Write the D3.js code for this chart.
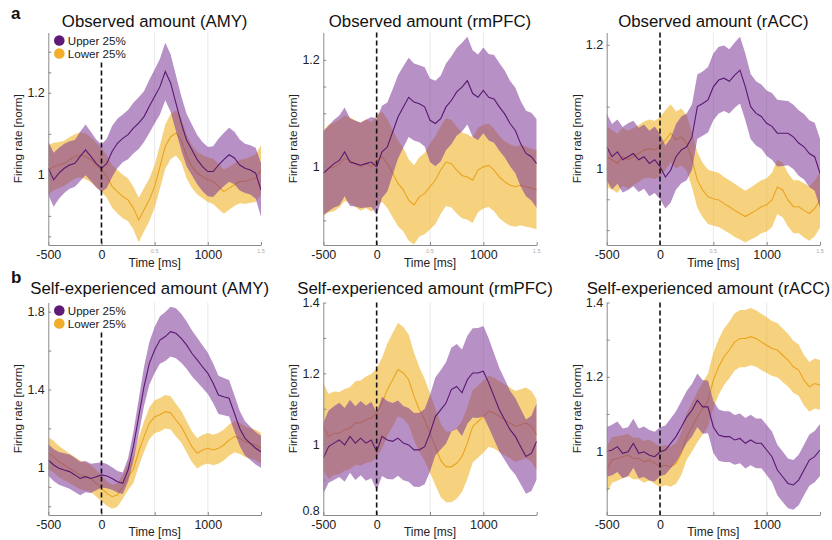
<!DOCTYPE html>
<html><head><meta charset="utf-8">
<script src="https://cdn.jsdelivr.net/npm/d3@7"></script>
<style>
html,body{margin:0;padding:0;background:#fff;}
svg{display:block;font-family:"Liberation Sans",Arial,Helvetica,sans-serif;}
</style></head>
<body><svg id="chart" width="832" height="540"></svg>
<script>
// ---------------- DATA ----------------
const timeMs = [-500,-450,-400,-350,-300,-250,-200,-150,-100,-50,0,50,100,150,200,250,300,350,400,450,500,550,600,650,700,750,800,850,900,950,1000,1050,1100,1150,1200,1250,1300,1350,1400,1450,1500];
const seriesNames = ["Upper 25%", "Lower 25%"];
const panelTitles = ["Observed amount (AMY)","Observed amount (rmPFC)","Observed amount (rACC)",
  "Self-experienced amount (AMY)","Self-experienced amount (rmPFC)","Self-experienced amount (rACC)"];
const panelLetters = ["a","b"];
const xTickValues = [-500,0,500,1000,1500];
const xTickLabels = ["-500","0","","1000",""];

// a: Observed amount (AMY)
const obsAmyUpper = [1.016,0.988,1.004,1.016,1.024,1.028,1.045,1.061,1.045,1.028,1.016,1.028,1.057,1.077,1.089,1.098,1.114,1.126,1.142,1.167,1.191,1.215,1.252,1.224,1.175,1.126,1.085,1.061,1.037,1.020,1.008,1.008,1.024,1.037,1.049,1.041,1.024,1.016,1.012,1.004,0.963];
const obsAmyUpperSem = [0.065,0.066,0.062,0.060,0.058,0.057,0.060,0.062,0.060,0.058,0.058,0.060,0.062,0.060,0.058,0.060,0.062,0.063,0.062,0.065,0.066,0.068,0.070,0.070,0.068,0.066,0.064,0.062,0.060,0.060,0.060,0.062,0.064,0.065,0.066,0.064,0.062,0.060,0.060,0.062,0.065];
const obsAmyLower = [1.012,1.020,1.024,1.028,1.037,1.045,1.049,1.045,1.037,1.024,1.012,0.996,0.972,0.959,0.947,0.939,0.919,0.890,0.915,0.939,0.972,1.020,1.069,1.093,1.102,1.085,1.045,1.020,1.004,0.996,0.988,0.984,0.972,0.959,0.967,0.976,0.984,0.984,0.988,0.992,1.012];
const obsAmyLowerSem = [0.060,0.058,0.056,0.055,0.055,0.054,0.055,0.056,0.055,0.054,0.053,0.052,0.052,0.053,0.053,0.052,0.052,0.054,0.053,0.052,0.052,0.053,0.054,0.055,0.055,0.054,0.053,0.052,0.052,0.053,0.054,0.055,0.055,0.054,0.052,0.052,0.053,0.055,0.056,0.058,0.060];

// a: Observed amount (rmPFC)
const obsPfcUpper = [0.988,0.997,1.006,1.012,1.028,1.009,1.006,1.003,1.006,1.009,1.000,1.028,1.037,1.065,1.093,1.112,1.130,1.121,1.118,1.112,1.087,1.081,1.090,1.112,1.124,1.140,1.149,1.161,1.137,1.130,1.143,1.130,1.127,1.112,1.099,1.081,1.068,1.043,1.025,1.019,1.006];
const obsPfcUpperSem = [0.078,0.080,0.082,0.084,0.083,0.082,0.080,0.080,0.082,0.084,0.090,0.086,0.083,0.080,0.078,0.076,0.074,0.072,0.072,0.074,0.078,0.080,0.080,0.081,0.082,0.082,0.083,0.082,0.081,0.080,0.080,0.081,0.082,0.082,0.081,0.080,0.080,0.080,0.080,0.082,0.083];
const obsPfcLower = [0.988,0.997,1.000,1.006,1.016,1.012,1.006,1.000,1.006,1.000,1.012,1.019,1.006,0.988,0.969,0.957,0.938,0.929,0.944,0.950,0.963,0.975,0.994,1.009,1.006,0.994,0.984,0.981,0.975,0.994,1.000,1.003,0.994,0.981,0.972,0.966,0.963,0.966,0.963,0.960,0.957];
const obsPfcLowerSem = [0.080,0.082,0.083,0.082,0.080,0.080,0.081,0.082,0.083,0.084,0.085,0.084,0.083,0.082,0.080,0.078,0.076,0.074,0.074,0.076,0.080,0.082,0.082,0.082,0.082,0.081,0.080,0.080,0.080,0.079,0.078,0.078,0.077,0.077,0.076,0.076,0.075,0.075,0.075,0.074,0.074];

// a: Observed amount (rACC)
const obsAccUpper = [1.035,1.019,1.027,1.014,1.019,1.024,1.014,1.019,1.008,1.014,1.003,0.986,0.997,1.019,1.030,1.035,1.051,1.100,1.105,1.111,1.132,1.143,1.146,1.141,1.151,1.159,1.132,1.100,1.089,1.084,1.073,1.068,1.057,1.057,1.057,1.051,1.041,1.035,1.024,1.019,0.992];
const obsAccUpperSem = [0.054,0.053,0.052,0.053,0.054,0.053,0.052,0.052,0.053,0.054,0.053,0.051,0.052,0.053,0.054,0.054,0.053,0.052,0.052,0.053,0.054,0.054,0.053,0.052,0.053,0.054,0.054,0.053,0.052,0.052,0.053,0.054,0.054,0.053,0.052,0.052,0.053,0.053,0.054,0.055,0.056];
const obsAccLower = [1.019,1.014,1.008,1.019,1.014,1.019,1.024,1.030,1.032,1.030,1.035,1.046,1.057,1.046,1.051,1.041,1.014,0.981,0.965,0.954,0.951,0.949,0.943,0.938,0.932,0.927,0.922,0.927,0.932,0.938,0.941,0.949,0.970,0.965,0.949,0.938,0.938,0.932,0.927,0.935,0.949];
const obsAccLowerSem = [0.049,0.048,0.048,0.047,0.047,0.046,0.046,0.046,0.047,0.047,0.048,0.048,0.047,0.046,0.046,0.045,0.045,0.045,0.044,0.044,0.044,0.044,0.043,0.043,0.043,0.042,0.042,0.042,0.043,0.043,0.043,0.044,0.044,0.044,0.043,0.043,0.043,0.044,0.044,0.045,0.045];

// b: Self-experienced amount (AMY)
const selfAmyUpper = [1.038,1.012,0.995,0.986,0.978,0.961,0.943,0.952,0.943,0.952,0.961,0.955,0.943,0.926,0.918,0.986,1.106,1.260,1.415,1.534,1.603,1.654,1.672,1.697,1.689,1.663,1.629,1.586,1.552,1.517,1.483,1.432,1.372,1.363,1.355,1.278,1.200,1.149,1.123,1.098,1.080];
const selfAmyUpperSem = [0.080,0.082,0.084,0.086,0.088,0.088,0.086,0.080,0.075,0.070,0.065,0.062,0.058,0.055,0.055,0.060,0.075,0.090,0.100,0.110,0.118,0.122,0.126,0.128,0.128,0.126,0.122,0.118,0.114,0.110,0.106,0.102,0.098,0.096,0.094,0.092,0.090,0.088,0.086,0.084,0.082];
const selfAmyLower = [1.072,1.055,1.029,1.012,0.995,0.978,0.961,0.952,0.943,0.918,0.892,0.866,0.849,0.858,0.900,0.950,0.990,1.080,1.158,1.226,1.260,1.270,1.286,1.280,1.243,1.209,1.158,1.106,1.072,1.089,1.098,1.089,1.098,1.115,1.140,1.158,1.149,1.132,1.123,1.115,1.098];
const selfAmyLowerSem = [0.082,0.082,0.080,0.078,0.076,0.075,0.074,0.072,0.070,0.068,0.066,0.064,0.062,0.060,0.062,0.066,0.070,0.074,0.078,0.082,0.085,0.086,0.086,0.085,0.084,0.082,0.080,0.079,0.078,0.078,0.078,0.078,0.079,0.080,0.080,0.080,0.080,0.079,0.078,0.078,0.078];

// b: Self-experienced amount (rmPFC)
const selfPfcUpper = [0.960,0.993,1.003,1.012,0.998,1.022,1.003,1.017,1.003,1.012,0.979,1.022,1.012,1.008,1.017,1.003,0.998,0.984,0.984,0.993,1.031,1.078,1.097,1.116,1.154,1.163,1.145,1.182,1.201,1.201,1.206,1.173,1.135,1.097,1.069,1.041,1.022,0.993,0.965,0.974,1.008];
const selfPfcUpperSem = [0.100,0.102,0.104,0.105,0.104,0.103,0.104,0.105,0.106,0.108,0.110,0.112,0.110,0.108,0.106,0.105,0.104,0.104,0.105,0.106,0.108,0.110,0.112,0.115,0.118,0.120,0.122,0.124,0.126,0.127,0.128,0.126,0.122,0.118,0.114,0.110,0.108,0.106,0.105,0.106,0.108];
const selfPfcLower = [1.050,1.022,1.031,1.031,1.041,1.045,1.060,1.060,1.069,1.074,1.088,1.116,1.154,1.182,1.211,1.201,1.182,1.135,1.097,1.069,1.031,0.993,0.955,0.936,0.936,0.946,0.965,1.003,1.050,1.064,1.078,1.093,1.088,1.078,1.069,1.060,1.050,1.055,1.060,1.050,1.026];
const selfPfcLowerSem = [0.123,0.120,0.118,0.116,0.115,0.116,0.118,0.120,0.122,0.124,0.126,0.128,0.130,0.132,0.132,0.130,0.128,0.124,0.120,0.116,0.112,0.108,0.104,0.100,0.100,0.100,0.100,0.102,0.102,0.102,0.102,0.100,0.100,0.100,0.100,0.100,0.100,0.100,0.100,0.100,0.100];

// b: Self-experienced amount (rACC)
const selfAccUpper = [0.998,1.003,1.012,0.994,0.998,1.021,0.994,0.998,0.989,0.985,0.998,1.003,1.021,1.039,1.065,1.092,1.110,1.137,1.119,1.119,1.065,1.043,1.039,1.039,1.030,1.034,1.021,1.030,1.021,1.021,1.003,0.985,0.949,0.931,0.913,0.909,0.922,0.949,0.976,0.985,1.003];
const selfAccUpperSem = [0.067,0.068,0.068,0.067,0.066,0.066,0.067,0.068,0.068,0.067,0.066,0.066,0.067,0.068,0.069,0.070,0.071,0.072,0.072,0.071,0.070,0.069,0.068,0.068,0.067,0.067,0.068,0.068,0.067,0.067,0.067,0.068,0.068,0.068,0.067,0.067,0.068,0.068,0.069,0.069,0.070];
const selfAccLower = [0.949,0.976,0.980,0.985,0.989,0.980,0.980,0.971,0.976,0.967,0.958,0.962,0.958,0.967,0.994,1.039,1.065,1.092,1.115,1.137,1.191,1.227,1.254,1.272,1.294,1.303,1.303,1.308,1.303,1.294,1.285,1.276,1.272,1.258,1.245,1.227,1.218,1.191,1.173,1.182,1.178];
const selfAccLowerSem = [0.063,0.062,0.060,0.058,0.057,0.056,0.056,0.056,0.055,0.055,0.055,0.054,0.054,0.055,0.058,0.062,0.066,0.068,0.070,0.072,0.074,0.075,0.076,0.076,0.077,0.077,0.077,0.077,0.076,0.076,0.075,0.074,0.073,0.072,0.071,0.070,0.069,0.068,0.067,0.067,0.067];

// y axis domains and ticks per panel
const yDomains = [[0.829,1.347],[0.854,1.251],[0.876,1.220],[0.755,1.847],[0.8,1.4],[0.828,1.4]];
const yTickValues = [[1,1.2],[1,1.2],[1,1.2],[1,1.4,1.8],[0.8,1,1.2,1.4],[1,1.2,1.4]];
const yMinorTicks = [[0.85,0.9,1.1,1.25,1.3],[0.9,1.1,1.15],[0.9,0.95,1.1],[0.8,0.9,1.2,1.6],[0.9,1.1,1.3],[0.9,1.1,1.3]];

// ---------------- LAYOUT / STYLE ----------------
const svg = d3.select("#chart");
const cols = [{x0:48.3,x1:261},{x0:323.3,x1:536.7},{x0:606.7,x1:820}];
const rows = [{y0:32.5,y1:245,titleY:27.3,letterY:19,titleDx:0,timeY:267},
              {y0:302.5,y1:515,titleY:293.6,letterY:283,titleDx:-5,timeY:536}];
const purpleLine = "#5a1870", yellowLine = "#eba31e";
const purpleFill = "#7b3597", yellowFill = "#f0b429";
const purpleDot = "#5e1a75", yellowDot = "#f0ae2b";
const axisGrey = "#8a8a8a", textCol = "#222";

const panelSeries = [
  [obsAmyUpper,obsAmyUpperSem,obsAmyLower,obsAmyLowerSem],
  [obsPfcUpper,obsPfcUpperSem,obsPfcLower,obsPfcLowerSem],
  [obsAccUpper,obsAccUpperSem,obsAccLower,obsAccLowerSem],
  [selfAmyUpper,selfAmyUpperSem,selfAmyLower,selfAmyLowerSem],
  [selfPfcUpper,selfPfcUpperSem,selfPfcLower,selfPfcLowerSem],
  [selfAccUpper,selfAccUpperSem,selfAccLower,selfAccLowerSem]
];

// panel letters
panelLetters.forEach((L,r)=>{
  svg.append("text").attr("x",11).attr("y",rows[r].letterY).text(L)
    .attr("font-size",17).attr("font-weight","bold").attr("fill","#111");
});

panelSeries.forEach((ser,i)=>{
  const r = Math.floor(i/3), c = i%3;
  const C = cols[c], R = rows[r];
  const x = d3.scaleLinear().domain([-500,1500]).range([C.x0,C.x1]);
  const y = d3.scaleLinear().domain(yDomains[i]).range([R.y1,R.y0]);
  const g = svg.append("g");
  const clipId = "clip"+i;
  svg.append("clipPath").attr("id",clipId).append("rect")
    .attr("x",C.x0).attr("y",R.y0).attr("width",C.x1-C.x0).attr("height",R.y1-R.y0);

  // faint vertical grid
  g.selectAll(".grid").data([500,1000]).enter().append("line")
    .attr("x1",d=>x(d)).attr("x2",d=>x(d)).attr("y1",R.y0).attr("y2",R.y1)
    .attr("stroke","#e9e9e9").attr("stroke-width",1);

  const [up,upS,lo,loS] = ser;
  const pts = (m,s)=>timeMs.map((t,k)=>({t,m:m[k],s:s[k]}));
  const area = d3.area().x(d=>x(d.t)).y0(d=>y(d.m-d.s)).y1(d=>y(d.m+d.s));
  const line = d3.line().x(d=>x(d.t)).y(d=>y(d.m));
  const pg = g.append("g").attr("clip-path",`url(#${clipId})`);
  pg.append("path").datum(pts(lo,loS)).attr("d",area).attr("fill",yellowFill).attr("fill-opacity",0.6);
  pg.append("path").datum(pts(lo,loS)).attr("d",line).attr("fill","none").attr("stroke",yellowLine).attr("stroke-width",1.1);
  pg.append("path").datum(pts(up,upS)).attr("d",area).attr("fill",purpleFill).attr("fill-opacity",0.55);
  pg.append("path").datum(pts(up,upS)).attr("d",line).attr("fill","none").attr("stroke",purpleLine).attr("stroke-width",1.1);

  // axes
  g.append("g").attr("transform",`translate(${C.x0},0)`)
    .call(d3.axisLeft(y).tickValues(yTickValues[i]).tickFormat(d3.format("~g")).tickSize(-3).tickSizeOuter(0).tickPadding(3.5))
    .call(a=>a.selectAll(".tick text").filter(d=>d===yDomains[i][0]).attr("dy","-0.05em"));
  g.append("g").attr("transform",`translate(${C.x0},0)`)
    .call(d3.axisLeft(y).tickValues(yMinorTicks[i]).tickFormat("").tickSize(-3).tickSizeOuter(0))
    .call(a=>a.select(".domain").remove());
  g.append("g").attr("transform",`translate(0,${R.y1})`)
    .call(d3.axisBottom(x).tickValues(xTickValues).tickFormat((d,k)=>xTickLabels[k]).tickSize(-3).tickSizeOuter(0).tickPadding(5.5));
  g.selectAll(".domain").attr("stroke",axisGrey);
  g.selectAll(".tick line").attr("stroke",axisGrey);
  g.selectAll(".tick text").attr("fill",textCol).attr("font-size",12.5)
    .attr("font-family","'Liberation Sans',Arial,sans-serif");

  if (r===0) {
    g.selectAll(".tinylab").data([[500,"0.5"],[1500,"1.5"]]).enter().append("text")
      .attr("x",d=>x(d[0])).attr("y",R.y1+8).attr("text-anchor","middle")
      .attr("font-size",5.5).attr("fill","#aaa").text(d=>d[1]);
  }

  // dashed onset line
  const hasLegend = (c===0);
  g.append("line").attr("x1",x(0)).attr("x2",x(0))
    .attr("y1",hasLegend?R.y0+30:R.y0).attr("y2",R.y1)
    .attr("stroke","#111").attr("stroke-width",1.6).attr("stroke-dasharray","5,3");

  // title
  g.append("text").attr("x",(C.x0+C.x1)/2+R.titleDx).attr("y",R.titleY).attr("text-anchor","middle")
    .attr("font-size",16.8).attr("fill","#111").text(panelTitles[i]);
  // axis labels
  g.append("text").attr("x",(C.x0+C.x1)/2).attr("y",R.timeY).attr("text-anchor","middle")
    .attr("font-size",12).attr("fill",textCol).text("Time [ms]");
  g.append("text").attr("transform",`translate(${C.x0-26},${(R.y0+R.y1)/2}) rotate(-90)`)
    .attr("text-anchor","middle").attr("font-size",11.7).attr("fill",textCol).text("Firing rate [norm]");

  // legend
  if (hasLegend) {
    const lg = g.append("g");
    [[purpleDot,seriesNames[0]],[yellowDot,seriesNames[1]]].forEach((d,k)=>{
      const cy = R.y0 + 8 + k*13;
      lg.append("circle").attr("cx",C.x0+11).attr("cy",cy).attr("r",5.3).attr("fill",d[0]);
      lg.append("text").attr("x",C.x0+19.5).attr("y",cy+4).attr("font-size",11.6).attr("fill",textCol).text(d[1]);
    });
  }
});
</script></body></html>
